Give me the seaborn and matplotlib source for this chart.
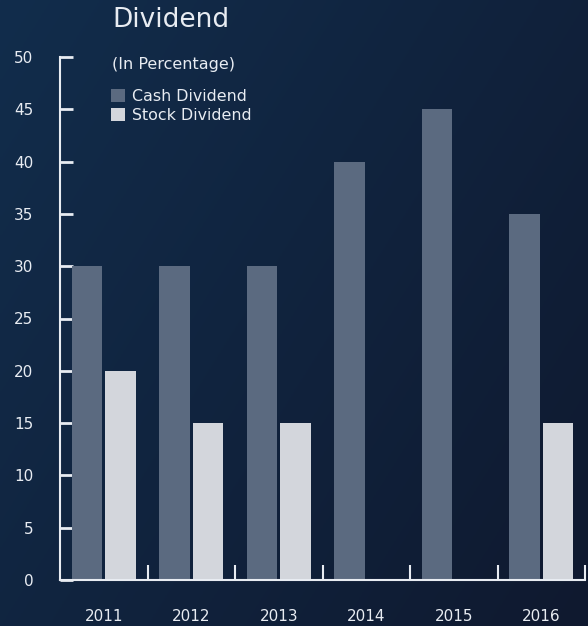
import numpy as np
import pandas as pd
import matplotlib
matplotlib.use("Agg")
import matplotlib.pyplot as plt
import seaborn as sns
from matplotlib.patches import Patch

years = ["2011", "2012", "2013", "2014", "2015", "2016"]
cash_dividend = [30, 30, 30, 40, 45, 35]
stock_dividend = [20, 15, 15, 0, 0, 15]
series_names = ["Cash Dividend", "Stock Dividend"]
y_ticks = [0, 5, 10, 15, 20, 25, 30, 35, 40, 45, 50]

df = pd.DataFrame({
    "Year": years * 2,
    "Value": cash_dividend + stock_dividend,
    "Series": [series_names[0]] * len(years) + [series_names[1]] * len(years),
})

sns.set_theme(style="white")
plt.rcParams["font.family"] = ["DejaVu Sans"]

colors = {"Cash Dividend": "#5b6a80", "Stock Dividend": "#d3d6dc"}
fg = "#e8ecf2"

fig = plt.figure(figsize=(5.88, 6.26), dpi=100)

# background gradient
bg = fig.add_axes([0, 0, 1, 1], zorder=-10)
xx, yy = np.meshgrid(np.linspace(0, 1, 200), np.linspace(0, 1, 200))
t = np.clip(0.6 * xx + 0.4 * yy, 0, 1)
c0 = np.array([0x12, 0x2d, 0x4c]) / 255.0
c1 = np.array([0x0f, 0x19, 0x2f]) / 255.0
img = c0[None, None, :] * (1 - t[..., None]) + c1[None, None, :] * t[..., None]
bg.imshow(img, aspect="auto", extent=[0, 1, 0, 1], origin="upper")
bg.axis("off")

ax = fig.add_axes([60 / 588, 1 - 580 / 626, 525 / 588, (580 - 57) / 626])
ax.set_facecolor("none")

sns.barplot(data=df, x="Year", y="Value", hue="Series", palette=colors,
            width=0.77, gap=0.09, ax=ax, legend=False, saturation=1,
            linewidth=0)

ax.set_ylim(0, 50)
ax.set_xlim(-0.5, len(years) - 0.5)
ax.set_yticks(y_ticks)
ax.set_xlabel("")
ax.set_ylabel("")

for s in ["top", "right"]:
    ax.spines[s].set_visible(False)
for s in ["left", "bottom"]:
    ax.spines[s].set_color(fg)
    ax.spines[s].set_linewidth(1.5)

ax.tick_params(axis="y", direction="in", length=9, width=2, color=fg,
               labelcolor=fg, labelsize=11, pad=19, left=True)
ax.tick_params(axis="x", which="major", length=0, labelcolor=fg,
               labelsize=11, pad=21, bottom=True)
ax.set_xticks(np.arange(len(years)) + 0.5, minor=True)
ax.tick_params(axis="x", which="minor", direction="in", length=11, width=1.5,
               color=fg, bottom=True)

fig.text(112 / 588, 1 - 20 / 626, "Dividend", color=fg, fontsize=19,
         ha="left", va="center")
fig.text(112 / 588, 1 - 64 / 626, "(In Percentage)", color=fg, fontsize=11.5,
         ha="left", va="center")

handles = [Patch(facecolor=colors[n], edgecolor="none", label=n) for n in series_names]
leg = fig.legend(handles=handles, loc="upper left",
                 bbox_to_anchor=(108 / 588, 1 - 86 / 626), frameon=False,
                 handlelength=0.85, handleheight=0.85, handletextpad=0.45,
                 labelspacing=0.25, fontsize=11.4, borderaxespad=0, borderpad=0.2)
for txt in leg.get_texts():
    txt.set_color(fg)

fig.savefig("out.png", dpi=100)
